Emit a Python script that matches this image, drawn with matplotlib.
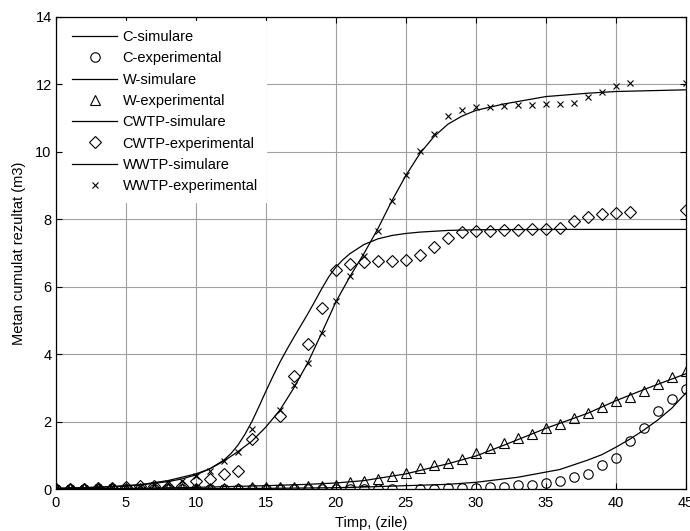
import numpy as np
import matplotlib
matplotlib.use('Agg')
import matplotlib.pyplot as plt

plt.rcParams['font.family'] = ['Liberation Sans', 'DejaVu Sans']
plt.rcParams['font.size'] = 10.5

# --- date ---
# C (cerc)
c_exp_x = list(range(0, 25)) + list(range(26, 46))
c_exp_y = [0.0] * 25 + [0.0, 0.0, 0.02, 0.02, 0.04, 0.07, 0.07, 0.12, 0.13, 0.17,
                        0.24, 0.35, 0.45, 0.71, 0.93, 1.43, 1.8, 2.31, 2.67, 2.96]
c_sim_x = [0, 10, 15, 20, 22, 25, 28, 30, 33, 36, 38, 39, 40, 41, 42, 43, 44, 45]
c_sim_y = [0.0, 0.01, 0.02, 0.04, 0.06, 0.1, 0.14, 0.2, 0.35, 0.58, 0.86, 1.02, 1.24, 1.48, 1.75, 2.05, 2.4, 2.85]

# W (triunghi)
w_exp_x = list(range(0, 46))
w_exp_y = [0.03] * 14 + [0.07, 0.07, 0.07, 0.07, 0.1, 0.1, 0.13, 0.2, 0.25, 0.31, 0.39, 0.48, 0.61, 0.7,
                         0.76, 0.88, 1.08, 1.21, 1.37, 1.51, 1.62, 1.8, 1.93, 2.1, 2.25, 2.44, 2.61, 2.74,
                         2.92, 3.11, 3.33, 3.5]
w_sim_x = [0, 5, 10, 15, 18, 20, 22, 25, 28, 30, 32, 35, 38, 40, 42, 45]
w_sim_y = [0.0, 0.02, 0.05, 0.1, 0.14, 0.18, 0.25, 0.45, 0.75, 0.98, 1.3, 1.8, 2.25, 2.62, 2.95, 3.42]

# CWTP (romb)
cwtp_exp_x = list(range(0, 15)) + list(range(16, 42)) + [45]
cwtp_exp_y = [0.0, 0.0, 0.0, 0.02, 0.02, 0.05, 0.09, 0.09, 0.07, 0.09, 0.24, 0.3, 0.44, 0.53, 1.47,
              2.18, 3.34, 4.3, 5.38, 6.49, 6.67, 6.72, 6.76, 6.75, 6.78, 6.94, 7.19, 7.44, 7.62, 7.65,
              7.66, 7.67, 7.68, 7.7, 7.72, 7.75, 7.96, 8.06, 8.15, 8.2, 8.23, 8.28]
cwtp_sim_x = [0, 2, 4, 6, 8, 9, 10, 11, 12, 12.5, 13, 13.5, 14, 14.5, 15, 15.5, 16, 16.5, 17, 17.5,
              18, 18.5, 19, 19.5, 20, 20.5, 21, 22, 23, 24, 25, 26, 28, 30, 35, 40, 45]
cwtp_sim_y = [0.02, 0.04, 0.07, 0.12, 0.22, 0.3, 0.42, 0.6, 0.86, 1.05, 1.3, 1.62, 2.0, 2.44, 2.9,
              3.34, 3.76, 4.14, 4.5, 4.85, 5.2, 5.57, 5.95, 6.3, 6.58, 6.8, 6.98, 7.25, 7.42, 7.52,
              7.58, 7.62, 7.67, 7.69, 7.7, 7.7, 7.7]

# WWTP (x)
wwtp_exp_x = list(range(0, 15)) + list(range(16, 42)) + [45]
wwtp_exp_y = [0.02, 0.02, 0.03, 0.05, 0.05, 0.07, 0.1, 0.12, 0.18, 0.25, 0.38, 0.55, 0.83, 1.11, 1.78,
              2.34, 3.09, 3.75, 4.64, 5.58, 6.32, 6.91, 7.64, 8.53, 9.32, 10.03, 10.53, 11.05, 11.23,
              11.33, 11.33, 11.36, 11.39, 11.39, 11.42, 11.42, 11.46, 11.64, 11.77, 11.96, 12.04, 12.04]
wwtp_sim_x = [0, 2, 4, 6, 8, 10, 11, 12, 13, 14, 15, 16, 17, 18, 19, 20, 21, 22, 23, 24, 25, 26, 27,
              28, 29, 30, 32, 35, 38, 40, 45]
wwtp_sim_y = [0.02, 0.04, 0.07, 0.13, 0.25, 0.45, 0.6, 0.83, 1.11, 1.42, 1.84, 2.34, 3.0, 3.75, 4.64,
              5.55, 6.3, 6.98, 7.72, 8.55, 9.3, 9.95, 10.45, 10.82, 11.06, 11.23, 11.42, 11.64, 11.74,
              11.79, 11.84]

fig = plt.figure(figsize=(6.9, 5.31), dpi=100)
ax = fig.add_axes([0.081, 0.079, 0.913, 0.889])

lw = 0.9
mk = dict(linestyle='none', color='k', markerfacecolor='none', markeredgewidth=0.8)
ax.plot(c_sim_x, c_sim_y, 'k-', lw=lw, label='C-simulare')
ax.plot(c_exp_x, c_exp_y, marker='o', markersize=6.8, label='C-experimental', **mk)
ax.plot(w_sim_x, w_sim_y, 'k-', lw=lw, label='W-simulare')
ax.plot(w_exp_x, w_exp_y, marker='^', markersize=7.5, label='W-experimental', **mk)
ax.plot(cwtp_sim_x, cwtp_sim_y, 'k-', lw=lw, label='CWTP-simulare')
ax.plot(cwtp_exp_x, cwtp_exp_y, marker='D', markersize=6, label='CWTP-experimental', **mk)
ax.plot(wwtp_sim_x, wwtp_sim_y, 'k-', lw=lw, label='WWTP-simulare')
ax.plot(wwtp_exp_x, wwtp_exp_y, marker='x', markersize=4, label='WWTP-experimental', **mk)

ax.set_xlim(0, 45)
ax.set_ylim(0, 14)
ax.set_xticks(np.arange(0, 46, 5))
ax.set_yticks(np.arange(0, 15, 2))
ax.grid(True, color='#a0a0a0', lw=0.8)
ax.set_axisbelow(True)
ax.tick_params(direction='in', length=4, width=0.8, top=True, right=True)
ax.tick_params(axis='x', pad=5)
ax.tick_params(axis='y', pad=3)
for s in ax.spines.values():
    s.set_linewidth(0.9)

ax.set_xlabel('Timp, (zile)', labelpad=4)
ax.set_ylabel('Metan cumulat rezultat (m3)', labelpad=7)

leg = ax.legend(loc='upper left', bbox_to_anchor=(0.005, 1.0), frameon=True, fancybox=False,
                edgecolor='white', framealpha=1, handlelength=3.1, handletextpad=0.35,
                labelspacing=0.5, borderaxespad=0.3, borderpad=0.6)

fig.savefig('out.png', dpi=100)
